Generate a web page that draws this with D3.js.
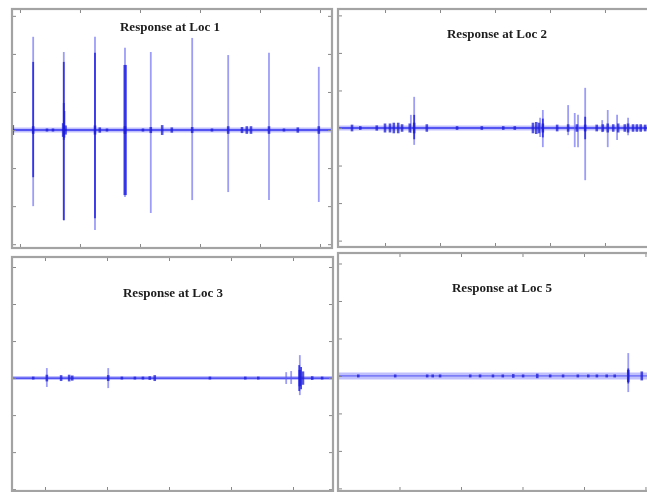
<!DOCTYPE html>
<html><head><meta charset="utf-8">
<script src="https://cdn.jsdelivr.net/npm/d3@7"></script>
<style>html,body{margin:0;padding:0;background:#fff;}svg{display:block;}</style>
</head><body>
<script>
// ---------- data ----------
const titles = ["Response at Loc 1", "Response at Loc 2", "Response at Loc 3", "Response at Loc 5"];
const yTicks = [-3, -2, -1, 0, 1, 2, 3];
const xTicks = [0, 1, 2, 3, 4, 5];

// spikes: [time, max, min] (light envelope)
const loc1Spikes = [[0.22, 2.45, -2.0], [0.73, 2.05, -2.37], [1.25, 2.45, -2.63], [1.75, 2.16, -1.76],
  [2.18, 2.05, -2.18], [2.87, 2.42, -1.84], [3.47, 1.97, -1.63], [4.15, 2.03, -1.84], [4.98, 1.66, -1.89]];
// darker cores: [time, max, min]
const loc1Cores = [[0.22, 1.79, -1.24], [0.73, 1.79, -2.37], [0.73, 0.71, -0.26], [0.74, 0.5, -0.2], [1.25, 2.03, -2.32],
  [1.74, 1.71, -1.71], [1.765, 1.71, -1.71]];
// baseline bursts: [time, amplitude]
const loc1Blobs = [[-0.12, 0.13], [0.22, 0.1], [0.72, 0.18], [0.76, 0.12], [1.25, 0.12], [1.33, 0.07], [1.75, 0.1],
  [2.18, 0.08], [2.37, 0.13], [2.53, 0.07], [2.87, 0.08], [3.47, 0.1], [3.7, 0.08], [3.78, 0.1], [3.85, 0.1],
  [4.15, 0.1], [4.63, 0.07], [4.98, 0.1], [0.45, 0.04], [0.55, 0.04], [1.45, 0.04], [2.05, 0.04], [3.2, 0.04], [4.4, 0.04]];

const loc2Spikes = [[1.47, 0.35, -0.13], [1.53, 0.83, -0.45], [3.82, 0.27, -0.24], [3.87, 0.48, -0.51],
  [4.33, 0.61, -0.19], [4.45, 0.4, -0.51], [4.51, 0.35, -0.51], [4.64, 1.07, -1.39], [4.95, 0.21, -0.11],
  [5.05, 0.48, -0.51], [5.22, 0.35, -0.32], [5.42, 0.27, -0.19]];
const loc2Cores = [[1.53, 0.35, -0.3], [3.87, 0.25, -0.25], [4.64, 0.3, -0.3]];
const loc2Blobs = [[0.4, 0.09], [0.55, 0.05], [0.85, 0.07], [1.0, 0.12], [1.09, 0.12], [1.16, 0.14], [1.24, 0.14],
  [1.31, 0.1], [1.45, 0.12], [1.53, 0.14], [1.76, 0.1], [2.31, 0.05], [2.76, 0.05], [3.15, 0.05], [3.36, 0.05],
  [3.69, 0.14], [3.75, 0.16], [3.8, 0.14], [3.87, 0.12], [4.13, 0.09], [4.33, 0.1], [4.49, 0.1], [4.64, 0.09],
  [4.85, 0.09], [4.96, 0.1], [5.05, 0.12], [5.15, 0.1], [5.24, 0.12], [5.36, 0.1], [5.42, 0.12], [5.51, 0.1],
  [5.58, 0.1], [5.65, 0.1], [5.73, 0.09]];

const loc3Spikes = [[1.03, 0.27, -0.24], [2.02, 0.27, -0.27], [4.89, 0.16, -0.16], [4.97, 0.19, -0.16], [5.11, 0.62, -0.46]];
const loc3Cores = [[5.1, 0.35, -0.35], [5.13, 0.3, -0.3]];
const loc3Blobs = [[0.81, 0.04], [1.03, 0.09], [1.26, 0.08], [1.39, 0.09], [1.44, 0.07], [2.02, 0.08], [2.24, 0.04],
  [2.45, 0.04], [2.58, 0.04], [2.69, 0.05], [2.77, 0.08], [3.66, 0.04], [4.23, 0.04], [4.44, 0.04], [5.11, 0.22],
  [5.16, 0.18], [5.31, 0.05], [5.47, 0.04]];

const loc5Spikes = [[4.72, 0.61, -0.43]];
const loc5Cores = [[4.72, 0.2, -0.2]];
const loc5Blobs = [[0.33, 0.04], [0.93, 0.04], [1.45, 0.04], [1.54, 0.04], [1.66, 0.04], [2.15, 0.04], [2.31, 0.04],
  [2.52, 0.04], [2.68, 0.04], [2.85, 0.05], [3.01, 0.04], [3.24, 0.06], [3.45, 0.04], [3.66, 0.04], [3.9, 0.04],
  [4.07, 0.04], [4.21, 0.04], [4.37, 0.04], [4.5, 0.04], [4.72, 0.16], [4.94, 0.12]];

// ---------- layout ----------
const W = 647, H = 492;
const panels = [
  { title: titles[0], spikes: loc1Spikes, cores: loc1Cores, blobs: loc1Blobs,
    x0: 12, x1: 332, y0: 9, y1: 248, xd: [-0.133, 5.2], yd: [-3.1, 3.18], tx: 170, ty: 31, band: 5 },
  { title: titles[1], spikes: loc2Spikes, cores: loc2Cores, blobs: loc2Blobs,
    x0: 338, x1: 652, y0: 9, y1: 247, xd: [0.145, 5.855], yd: [-3.17, 3.17], tx: 497, ty: 38, band: 5 },
  { title: titles[2], spikes: loc3Spikes, cores: loc3Cores, blobs: loc3Blobs,
    x0: 12, x1: 333, y0: 257, y1: 491, xd: [0.468, 5.645], yd: [-3.05, 3.27], tx: 173, ty: 297, band: 4 },
  { title: titles[3], spikes: loc5Spikes, cores: loc5Cores, blobs: loc5Blobs,
    x0: 338, x1: 652, y0: 253, y1: 491, xd: [0, 5.106], yd: [-3.07, 3.28], tx: 502, ty: 292, band: 7 }
];

const svg = d3.select("body").append("svg").attr("width", W).attr("height", H);
const defs = svg.append("defs");
defs.append("filter").attr("id", "soft").attr("x", "-5%").attr("y", "-5%").attr("width", "110%").attr("height", "110%")
  .append("feGaussianBlur").attr("stdDeviation", 0.5);
svg.append("rect").attr("width", W).attr("height", H).attr("fill", "#fff");
const root = svg.append("g").attr("filter", "url(#soft)");

panels.forEach((p, i) => {
  const x = d3.scaleLinear().domain(p.xd).range([p.x0, p.x1]);
  const y = d3.scaleLinear().domain(p.yd).range([p.y1, p.y0]);
  defs.append("clipPath").attr("id", "clip" + i).append("rect")
    .attr("x", p.x0).attr("y", p.y0).attr("width", p.x1 - p.x0).attr("height", p.y1 - p.y0);
  const g = root.append("g");
  const plot = g.append("g").attr("clip-path", `url(#clip${i})`);

  // baseline band
  plot.append("line").attr("x1", p.x0).attr("x2", p.x1).attr("y1", y(0)).attr("y2", y(0))
    .attr("stroke", "#7474fa").attr("stroke-opacity", 0.45).attr("stroke-width", p.band);
  plot.append("line").attr("x1", p.x0).attr("x2", p.x1).attr("y1", y(0)).attr("y2", y(0))
    .attr("stroke", "#3030f0").attr("stroke-width", i === 3 ? 0.8 : 1.3);

  // envelopes
  plot.selectAll(".sp").data(p.spikes).join("line")
    .attr("x1", d => x(d[0])).attr("x2", d => x(d[0]))
    .attr("y1", d => y(d[1])).attr("y2", d => y(d[2]))
    .attr("stroke", "#5c5cf4").attr("stroke-opacity", 0.6).attr("stroke-width", 1.8);
  // cores
  plot.selectAll(".co").data(p.cores).join("line")
    .attr("x1", d => x(d[0])).attr("x2", d => x(d[0]))
    .attr("y1", d => y(d[1])).attr("y2", d => y(d[2]))
    .attr("stroke", "#2323e6").attr("stroke-opacity", 0.85).attr("stroke-width", 1.8);
  // baseline bursts
  plot.selectAll(".bl").data(p.blobs).join("line")
    .attr("x1", d => x(d[0])).attr("x2", d => x(d[0]))
    .attr("y1", d => y(d[1])).attr("y2", d => y(-d[1]))
    .attr("stroke", "#1a1ad8").attr("stroke-opacity", 0.75).attr("stroke-width", 2.6);

  // ticks via d3 axes (inward, no labels)
  const tickStyle = s => { s.select(".domain").remove(); s.selectAll("line").attr("stroke", "#888"); s.selectAll("text").remove(); };
  const xt = xTicks.filter(v => v > p.xd[0] + 0.05 && v < p.xd[1] - 0.05);
  const yt = yTicks.filter(v => v > p.yd[0] && v < p.yd[1]);
  g.append("g").attr("transform", `translate(${p.x0},0)`).call(d3.axisLeft(y).tickValues(yt).tickSize(-4).tickFormat("")).call(tickStyle);
  g.append("g").attr("transform", `translate(${p.x1},0)`).call(d3.axisRight(y).tickValues(yt).tickSize(-4).tickFormat("")).call(tickStyle);
  g.append("g").attr("transform", `translate(0,${p.y0})`).call(d3.axisTop(x).tickValues(xt).tickSize(-4).tickFormat("")).call(tickStyle);
  g.append("g").attr("transform", `translate(0,${p.y1})`).call(d3.axisBottom(x).tickValues(xt).tickSize(-4).tickFormat("")).call(tickStyle);

  // frame
  g.append("rect").attr("x", p.x0).attr("y", p.y0).attr("width", p.x1 - p.x0).attr("height", p.y1 - p.y0)
    .attr("fill", "none").attr("stroke", "#a3a3a3").attr("stroke-width", 2.2);

  // title
  g.append("text").attr("x", p.tx).attr("y", p.ty).attr("text-anchor", "middle")
    .attr("font-family", "'Liberation Serif', 'Times New Roman', serif").attr("font-weight", "bold")
    .attr("font-size", 13).attr("fill", "#1e1e1e").text(p.title);
});
</script>
</body></html>
